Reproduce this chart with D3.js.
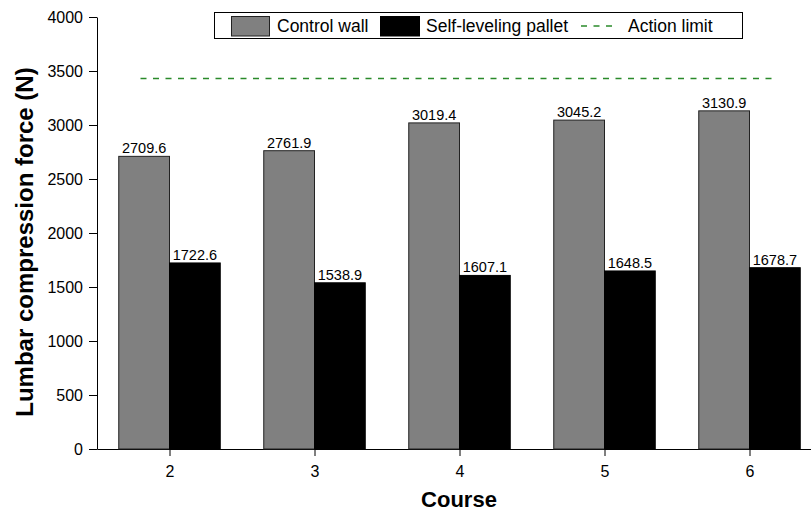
<!DOCTYPE html>
<html>
<head>
<meta charset="utf-8">
<script src="https://cdn.jsdelivr.net/npm/d3@7"></script>
<style>
  body { margin: 0; background: #fff; }
  svg { display: block; font-family: "Liberation Sans", Arial, sans-serif; }
</style>
</head>
<body>
<svg width="811" height="511"></svg>
<script>
const svg = d3.select("svg");

// data
const courses = [2, 3, 4, 5, 6];
const controlWall = [2709.6, 2761.9, 3019.4, 3045.2, 3130.9];
const selfLeveling = [1722.6, 1538.9, 1607.1, 1648.5, 1678.7];
const actionLimit = 3430;
const limitSpan = [1.8, 6.18];
const yTicks = [0, 500, 1000, 1500, 2000, 2500, 3000, 3500, 4000];
const legendLabels = ["Control wall", "Self-leveling pallet", "Action limit"];

const barW = 0.35; // in course units

const x = d3.scaleLinear().domain([1.5, 6.5]).range([97, 822]);
const y = d3.scaleLinear().domain([0, 4000]).range([449, 17]);

// axes
const yAxis = svg.append("g")
  .attr("transform", "translate(97,0)")
  .call(d3.axisLeft(y).tickValues(yTicks).tickFormat(d3.format("d"))
    .tickSize(8).tickSizeOuter(0).tickPadding(6));
yAxis.selectAll("text").attr("font-size", 16).attr("fill", "#000");

const xAxis = svg.append("g")
  .attr("transform", "translate(0,449)")
  .call(d3.axisBottom(x).tickValues(courses).tickFormat(d3.format("d"))
    .tickSize(7).tickSizeOuter(0).tickPadding(10));
xAxis.selectAll("text").attr("font-size", 16).attr("fill", "#000");

svg.selectAll(".domain, .tick line").attr("stroke", "#000");
yAxis.attr("font-family", null);
xAxis.attr("font-family", null);

// bars
const bars = svg.append("g");
bars.selectAll(".ctl")
  .data(courses)
  .join("rect")
  .attr("x", (d) => x(d - barW))
  .attr("width", (d) => x(d) - x(d - barW))
  .attr("y", (d, i) => y(controlWall[i]))
  .attr("height", (d, i) => y(0) - y(controlWall[i]))
  .attr("fill", "#808080")
  .attr("stroke", "#222")
  .attr("stroke-width", 1);

bars.selectAll(".slp")
  .data(courses)
  .join("rect")
  .attr("x", (d) => x(d))
  .attr("width", (d) => x(d + barW) - x(d))
  .attr("y", (d, i) => y(selfLeveling[i]))
  .attr("height", (d, i) => y(0) - y(selfLeveling[i]))
  .attr("fill", "#000")
  .attr("stroke", "#000")
  .attr("stroke-width", 1);

// value labels
const labels = svg.append("g").attr("font-size", 14.5).attr("text-anchor", "middle").attr("fill", "#000");
labels.selectAll(".lc")
  .data(courses)
  .join("text")
  .attr("x", (d) => x(d - barW / 2))
  .attr("y", (d, i) => y(controlWall[i]) - 3)
  .text((d, i) => controlWall[i].toFixed(1));
labels.selectAll(".ls")
  .data(courses)
  .join("text")
  .attr("x", (d) => x(d + barW / 2))
  .attr("y", (d, i) => y(selfLeveling[i]) - 3)
  .text((d, i) => selfLeveling[i].toFixed(1));

// action limit
svg.append("line")
  .attr("x1", x(limitSpan[0]))
  .attr("x2", x(limitSpan[1]))
  .attr("y1", y(actionLimit))
  .attr("y2", y(actionLimit))
  .attr("stroke", "#2a8a2a")
  .attr("stroke-width", 1.5)
  .attr("stroke-dasharray", "6,6.5");

// axis titles
svg.append("text")
  .attr("transform", "translate(33,242) rotate(-90)")
  .attr("text-anchor", "middle")
  .attr("font-size", 24)
  .attr("font-weight", "bold")
  .text("Lumbar compression force (N)");

svg.append("text")
  .attr("x", 459)
  .attr("y", 507)
  .attr("text-anchor", "middle")
  .attr("font-size", 22)
  .attr("font-weight", "bold")
  .text("Course");

// legend
const legend = svg.append("g");
legend.append("rect")
  .attr("x", 214.5).attr("y", 12.5).attr("width", 528).attr("height", 26)
  .attr("fill", "#fff").attr("stroke", "#000");
legend.append("rect")
  .attr("x", 231.5).attr("y", 16.5).attr("width", 38).attr("height", 19.5)
  .attr("fill", "#808080").attr("stroke", "#222");
legend.append("rect")
  .attr("x", 380.5).attr("y", 16.5).attr("width", 39).attr("height", 19.5)
  .attr("fill", "#000").attr("stroke", "#000");
legend.append("line")
  .attr("x1", 581).attr("x2", 614).attr("y1", 26).attr("y2", 26)
  .attr("stroke", "#2a8a2a").attr("stroke-width", 1.5).attr("stroke-dasharray", "6,6.5");
const legX = [277, 426, 628];
legend.selectAll("text")
  .data(legendLabels)
  .join("text")
  .attr("x", (d, i) => legX[i])
  .attr("y", 32)
  .attr("font-size", 17.5)
  .text((d) => d);
</script>
</body>
</html>
